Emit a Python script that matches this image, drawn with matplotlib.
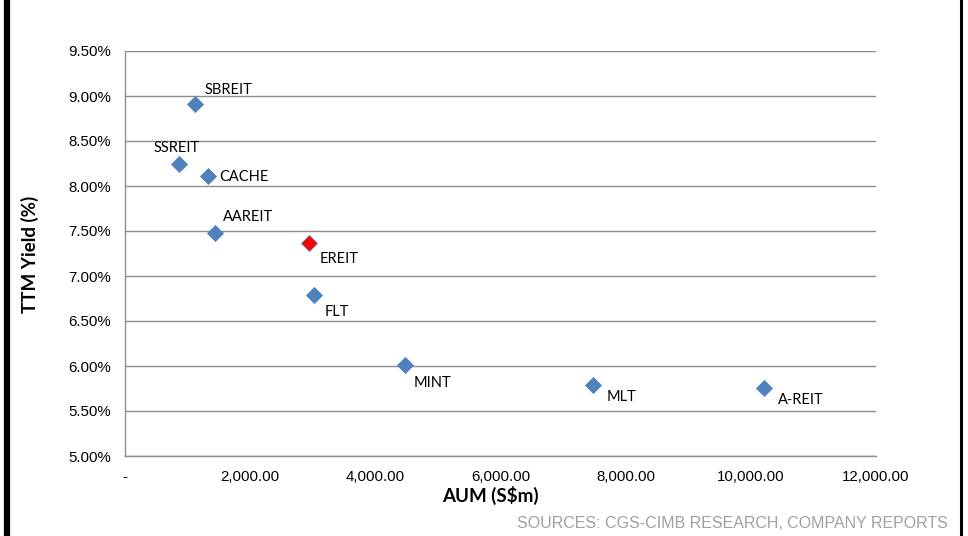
import matplotlib

matplotlib.use("Agg")
import matplotlib.pyplot as plt
from matplotlib.lines import Line2D
from matplotlib.ticker import FuncFormatter, MultipleLocator

names = ["SBREIT", "SSREIT", "CACHE", "AAREIT", "EREIT", "FLT", "MINT", "MLT", "A-REIT"]
aum = [1118, 863, 1326, 1438, 2940, 3020, 4474, 7478, 10210]
yields = [8.91, 8.25, 8.11, 7.48, 7.37, 6.79, 6.01, 5.79, 5.76]
highlight = "EREIT"

# label offsets in points (dx, dy) and alignment
label_pos = {
    "SBREIT": (7, 5, "left", "bottom"),
    "SSREIT": (-2, 6, "center", "bottom"),
    "CACHE": (8, -1, "left", "center"),
    "AAREIT": (6, 6, "left", "bottom"),
    "EREIT": (8, -7, "left", "top"),
    "FLT": (8, -7, "left", "top"),
    "MINT": (6, -8, "left", "top"),
    "MLT": (10, -4, "left", "top"),
    "A-REIT": (10, -4, "left", "top"),
}

BLUE = "#4F81BD"
RED = "#FF0000"
TICK_FONT = "Liberation Sans"
LABEL_FONT = "Lato"

fig = plt.figure(figsize=(9.68, 5.36), dpi=100)
ax = fig.add_axes([125 / 968, 1 - 456 / 536, (876 - 125) / 968, (456 - 51) / 536])

for name, x, y in zip(names, aum, yields):
    face = RED if name == highlight else BLUE
    ax.plot(x, y, marker="D", markersize=8.3, color=face,
            markeredgecolor=BLUE, markeredgewidth=0.6, linestyle="none", zorder=3)
    dx, dy, ha, va = label_pos[name]
    ax.annotate(name, (x, y), xytext=(dx, dy), textcoords="offset points",
                ha=ha, va=va, fontsize=10.5, family=LABEL_FONT, color="black")

ax.set_xlim(0, 12000)
ax.set_ylim(5.0, 9.5)
ax.xaxis.set_major_locator(MultipleLocator(2000))
ax.yaxis.set_major_locator(MultipleLocator(0.5))
ax.xaxis.set_major_formatter(FuncFormatter(lambda v, p: "-" if v == 0 else f"{v:,.2f}"))
ax.yaxis.set_major_formatter(FuncFormatter(lambda v, p: f"{v:.2f}%"))

ax.grid(axis="y", color="#8C8C8C", linewidth=1.0)
ax.set_axisbelow(True)
for side in ["top", "right"]:
    ax.spines[side].set_visible(False)
for side in ["left", "bottom"]:
    ax.spines[side].set_color("#8C8C8C")
    ax.spines[side].set_linewidth(1.0)

ax.tick_params(axis="both", length=0, labelsize=10.8)
ax.tick_params(axis="y", pad=10)
ax.tick_params(axis="x", pad=10)
for lab in ax.get_xticklabels() + ax.get_yticklabels():
    lab.set_fontfamily(TICK_FONT)

fig.text(30 / 968, 1 - 254 / 536, "TTM Yield (%)", rotation=90, ha="center", va="center",
         fontsize=13.5, fontweight="bold", family=LABEL_FONT)
fig.text(490 / 968, 1 - 495 / 536, "AUM (S$m)", ha="center", va="center",
         fontsize=13.5, fontweight="bold", family=LABEL_FONT)
fig.text(948 / 968, 1 - 523 / 536, "SOURCES: CGS-CIMB RESEARCH, COMPANY REPORTS",
         ha="right", va="center", fontsize=11.5, color="#A0A0A0", family=TICK_FONT)

# frame bars at the left and right edges
fig.add_artist(Line2D([7 / 968, 7 / 968], [0, 1], transform=fig.transFigure,
                      color="black", linewidth=4.5))
fig.add_artist(Line2D([961 / 968, 961 / 968], [0, 1], transform=fig.transFigure,
                      color="black", linewidth=2.2))

fig.savefig("out.png", dpi=100)
